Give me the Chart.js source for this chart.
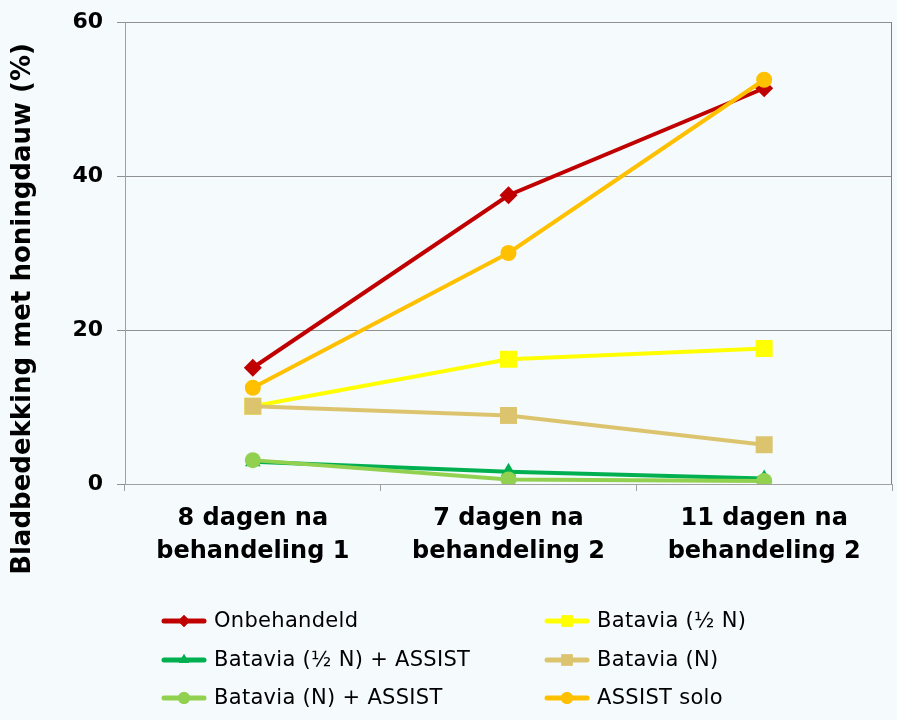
<!DOCTYPE html>
<html lang="nl">
<head>
<meta charset="UTF-8">
<title>Bladbedekking met honingdauw</title>
<script src="https://cdn.jsdelivr.net/npm/chart.js"></script>
<style>
  html, body { margin: 0; padding: 0; background: #F5FAFD; }
  #wrap { width: 897px; height: 720px; position: relative; }
</style>
</head>
<body>
<div id="wrap"><canvas id="chart"></canvas></div>
<script>
// categories and series
const categories = [
  ['8 dagen na', 'behandeling 1'],
  ['7 dagen na', 'behandeling 2'],
  ['11 dagen na', 'behandeling 2']
];
const onbehandeld        = [15.1, 37.5, 51.4];
const bataviaHalfN       = [10.1, 16.2, 17.6];
const bataviaHalfNAssist = [2.9, 1.6, 0.7];
const bataviaN           = [10.1, 8.9, 5.1];
const bataviaNAssist     = [3.1, 0.6, 0.4];
const assistSolo         = [12.5, 30.0, 52.5];
const yTicks = [0, 20, 40, 60];
const yTitle = 'Bladbedekking met honingdauw (%)';

const series = [
  { label: 'Onbehandeld',            data: onbehandeld,        color: '#C00000', shape: 'rectRot',  r: 9 },
  { label: 'Batavia (\u00BD N)',          data: bataviaHalfN,       color: '#FFFF00', shape: 'rect',     r: 12 },
  { label: 'Batavia (\u00BD N) + ASSIST', data: bataviaHalfNAssist, color: '#00B050', shape: 'triangle', r: 9 },
  { label: 'Batavia (N)',            data: bataviaN,           color: '#DCC46F', shape: 'rect',     r: 12 },
  { label: 'Batavia (N) + ASSIST',   data: bataviaNAssist,     color: '#92D050', shape: 'circle',   r: 8 },
  { label: 'ASSIST solo',            data: assistSolo,         color: '#FFC000', shape: 'circle',   r: 8 }
];

const datasets = series.map((s, i) => ({
  label: s.label,
  data: s.data,
  borderColor: s.color,
  backgroundColor: s.color,
  borderWidth: 4,
  pointStyle: s.shape,
  pointRadius: s.r,
  pointBorderWidth: 0,
  pointHoverRadius: s.r,
  tension: 0,
  order: series.length - i   // later series on top, like the original
}));

// y axis title + two-column legend drawn on the canvas
const extras = {
  id: 'extras',
  afterDraw(chart) {
    const ctx = chart.ctx;
    ctx.save();
    ctx.fillStyle = '#000';
    ctx.font = 'bold 26px "DejaVu Sans", Verdana, sans-serif';
    ctx.textAlign = 'center';
    ctx.textBaseline = 'middle';
    ctx.translate(23, 309);
    ctx.rotate(-Math.PI / 2);
    ctx.fillText(yTitle, 0, 0);
    ctx.restore();

    const colX = [164, 547];
    const rowY = [621, 660, 698];
    ctx.save();
    ctx.font = '21px "DejaVu Sans", Verdana, sans-serif';
    ctx.letterSpacing = '0.3px';
    ctx.textBaseline = 'middle';
    ctx.textAlign = 'left';
    series.forEach((s, i) => {
      const x = colX[i % 2], y = rowY[Math.floor(i / 2)];
      ctx.strokeStyle = s.color;
      ctx.lineWidth = 5;
      ctx.lineCap = 'round';
      ctx.beginPath();
      ctx.moveTo(x, y);
      ctx.lineTo(x + 40, y);
      ctx.stroke();
      ctx.fillStyle = s.color;
      Chart.helpers.drawPoint(ctx, { pointStyle: s.shape, radius: s.shape === 'rect' ? 8 : 6, rotation: 0, borderWidth: 0 }, x + 20, y);
      ctx.fill();
      ctx.fillStyle = '#000';
      ctx.fillText(s.label, x + 50, y + 1);
    });
    ctx.restore();
  }
};

new Chart(document.getElementById('chart'), {
  type: 'line',
  data: { labels: categories, datasets: datasets },
  options: {
    responsive: true,
    maintainAspectRatio: false,
    animation: false,
    layout: { autoPadding: false, padding: { top: 22, right: 5, left: 0, bottom: 0 } },
    plugins: { legend: { display: false }, tooltip: { enabled: false } },
    scales: {
      x: {
        offset: true,
        grid: {
          offset: true,
          drawOnChartArea: false,
          color: '#A0A0A0',
          tickLength: 7
        },
        border: { color: '#A0A0A0' },
        ticks: {
          color: '#000',
          padding: 12,
          maxRotation: 0,
          font: { family: '"DejaVu Sans", Verdana, sans-serif', size: 24, weight: 'bold', lineHeight: 1.35 }
        },
        afterFit(scale) {
          scale.height = 236;
          scale.paddingLeft = 0;
          scale.paddingRight = 0;
        }
      },
      y: {
        min: 0,
        max: 60,
        afterBuildTicks(scale) { scale.ticks = yTicks.map(v => ({ value: v })); },
        grid: { color: '#909090', tickLength: 8 },
        border: { color: '#A0A0A0' },
        ticks: {
          color: '#000',
          padding: 14,
          font: { family: '"DejaVu Sans", Verdana, sans-serif', size: 22, weight: 'bold' }
        },
        afterFit(scale) {
          scale.width = 125;
          scale.paddingTop = 0;
          scale.paddingBottom = 0;
        }
      }
    }
  },
  plugins: [extras, {
    id: 'frame',
    beforeDraw(chart) {
      const ctx = chart.ctx;
      ctx.save();
      ctx.fillStyle = '#F5FAFD';
      ctx.fillRect(0, 0, chart.width, chart.height);
      ctx.restore();
    },
    afterDatasetsDraw(chart) {
      const a = chart.chartArea, ctx = chart.ctx;
      ctx.save();
      ctx.strokeStyle = '#808080';
      ctx.lineWidth = 1;
      ctx.beginPath();
      ctx.moveTo(a.right - 0.5, a.top);
      ctx.lineTo(a.right - 0.5, a.bottom);
      ctx.stroke();
      ctx.restore();
    }
  }]
});
</script>
</body>
</html>
